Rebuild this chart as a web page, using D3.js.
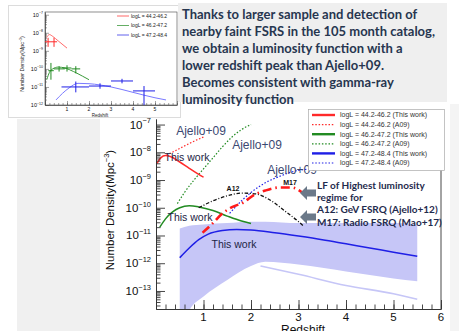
<!DOCTYPE html>
<html>
<head>
<meta charset="utf-8">
<script src="https://cdn.jsdelivr.net/npm/d3@7"></script>
<style>
  body { margin: 0; background: #fff; }
  svg { display: block; font-family: "Liberation Sans", Arial, sans-serif; }
</style>
</head>
<body>
<svg id="slide" width="459" height="331"></svg>
<script>
// ---- data: [redshift, log10(number density)] ----
// main panel curves
const redThisWork = [[0.02,-8.4],[0.1,-8.2],[0.2,-8.12],[0.3,-8.15],[0.5,-8.35],[0.7,-8.58],[0.9,-8.8],[1.0,-8.9]];
const redA09 = [[0.22,-8.1],[0.4,-7.95],[0.6,-7.77],[0.8,-7.6],[1.0,-7.45]];
const greenThisWork = [[0.08,-10.7],[0.2,-10.4],[0.35,-10.15],[0.5,-10.0],[0.7,-9.93],[0.9,-9.97],[1.2,-10.1],[1.5,-10.3],[1.8,-10.48],[2.0,-10.57]];
const greenA09 = [[0.45,-9.85],[0.6,-9.45],[0.8,-9.0],[1.0,-8.6],[1.2,-8.2],[1.4,-7.8],[1.6,-7.45],[1.8,-7.18],[2.0,-7.0]];
const blueThisWork = [[0.5,-11.8],[0.7,-11.45],[0.9,-11.15],[1.1,-10.95],[1.4,-10.82],[1.7,-10.78],[2.0,-10.8],[2.5,-10.9],[3.0,-11.02],[3.5,-11.15],[4.0,-11.3],[4.5,-11.45],[5.0,-11.6],[5.5,-11.75]];
const blueA09 = [[1.55,-10.2],[1.8,-9.75],[2.0,-9.45],[2.3,-9.1],[2.6,-8.87],[3.0,-8.65],[3.5,-8.58],[4.0,-8.56],[5.0,-8.56]];
const ajello12 = [[0.9,-10.0],[1.2,-9.75],[1.5,-9.57],[1.8,-9.47],[2.1,-9.5],[2.4,-9.72],[2.7,-10.1],[3.0,-10.5],[3.1,-10.65]];
const mao17 = [[0.98,-10.9],[1.2,-10.55],[1.4,-10.2],[1.6,-9.98],[1.85,-9.8],[2.05,-9.55],[2.3,-9.38],[2.6,-9.27],[2.85,-9.27],[3.08,-9.45]];
// uncertainty band of the highest luminosity bin: [z, upper, lower]
const blueBand = [[0.5,-10.75,-14.5],[0.7,-10.65,-13.7],[1.0,-10.6,-13.2],[1.5,-10.55,-12.6],[2.0,-10.5,-12.1],[2.3,-10.5,-11.95],[3.0,-10.55,-12.05],[4.0,-10.55,-12.3],[5.0,-10.55,-12.55],[5.5,-10.6,-12.65]];
const blueBandFaint = [[2.2,-12.1],[3.0,-12.4],[4.0,-12.8],[5.0,-13.1],[5.5,-13.3]];

// inset curves and binned points [z, zlo, zhi, logN, logNhi, logNlo]
const insetRed = [[0.08,-8.25],[0.2,-8.1],[0.35,-8.2],[0.6,-8.45],[1.0,-8.85]];
const insetGreen = [[0.08,-10.6],[0.2,-10.2],[0.35,-10.0],[0.6,-9.9],[0.9,-9.95],[1.3,-10.15],[1.7,-10.4],[2.0,-10.6]];
const insetBlue = [[0.5,-11.72],[0.8,-11.35],[1.1,-11.05],[1.5,-10.8],[2.0,-10.82],[3.0,-11.0],[4.0,-11.3],[5.0,-11.6],[5.5,-11.72]];
const insetRedPts = [[0.14,0.0,0.27,-8.5,-8.28,-8.78],[0.41,0.27,0.55,-8.5,-8.28,-8.78]];
const insetGreenPts = [[0.27,0.15,0.4,-10.1,-9.67,-10.6],[0.64,0.4,0.9,-10.0,-9.85,-10.15],[1.0,0.8,1.2,-9.95,-9.8,-10.15],[1.4,1.2,1.6,-10.0,-9.85,-10.25]];
const insetBluePts = [[1.4,0.75,2.0,-11.0,-10.7,-11.3],[2.5,2.0,3.0,-10.95,-10.8,-11.1],[3.5,3.0,4.0,-10.67,-10.55,-10.8],[4.5,4.0,5.0,-11.22,-10.95,-12.0]];

// tick labels
const zTicks = [0,1,2,3,4,5,6];
const mainExps = [-7,-8,-9,-10,-11,-12,-13];
const insetExps = [-7,-8,-9,-10,-11,-12];

const legendLabels = ["logL = 44.2-46.2 (This work)","logL = 44.2-46.2 (A09)","logL = 46.2-47.2 (This work)","logL = 46.2-47.2 (A09)","logL = 47.2-48.4 (This work)","logL = 47.2-48.4 (A09)"];
const insetLegendLabels = ["logL = 44.2-46.2","logL = 46.2-47.2","logL = 47.2-48.4"];
const slideText = ["Thanks to larger sample and detection of","nearby faint FSRS in the 105 month catalog,","we obtain a luminosity function with a","lower redshift peak than Ajello+09.","Becomes consistent with gamma-ray","luminosity function"];
const noteText = ["LF of Highest luminosity","regime for","A12: GeV FSRQ (Ajello+12)","M17: Radio FSRQ (Mao+17)"];

const RED = "#ff2a2a", GREEN = "#228b22", BLUE = "#1f1fe6";

const svg = d3.select("#slide");
const p10 = v => Math.pow(10, v);

function powLabel(g, x, y, exp, size) {
  const t = g.append("text").attr("x", x).attr("y", y)
    .attr("text-anchor", "end").style("font-size", size + "px").attr("fill", "#111");
  t.append("tspan").text("10");
  t.append("tspan").attr("dy", -size * 0.45).style("font-size", (size * 0.65) + "px").text("\u2212" + Math.abs(exp));
}

function minorLog(domain) {
  const out = [];
  for (let e = -15; e <= -6; e++)
    for (let k = 2; k <= 9; k++) {
      const v = k * p10(e);
      if (v >= domain[0] && v <= domain[1]) out.push(v);
    }
  return out;
}

// ---- backgrounds ----
svg.append("rect").attr("x", 17).attr("y", 119).attr("width", 83).attr("height", 212).attr("fill", "#f0f0f0");
svg.append("rect").attr("x", 8.5).attr("y", 5.5).attr("width", 172).attr("height", 112)
  .attr("fill", "#fff").attr("stroke", "#dcdcdc");

// ================= inset (small chart) =================
const ix = d3.scaleLinear().domain([0, 6]).range([45, 177]);
const iy = d3.scaleLog().domain([1e-12, p10(-6.85)]).range([105, 12]);
const inset = svg.append("g");

inset.append("rect").attr("x", 45).attr("y", 12).attr("width", 132).attr("height", 93)
  .attr("fill", "none").attr("stroke", "#444").attr("stroke-width", 0.6);

inset.append("g").attr("transform", "translate(45,0)")
  .call(d3.axisLeft(iy).tickValues(insetExps.map(p10)).tickSize(-4).tickSizeOuter(0).tickFormat(""));
inset.append("g").attr("transform", "translate(45,0)")
  .call(d3.axisLeft(iy).tickValues(minorLog(iy.domain())).tickSize(-2).tickSizeOuter(0).tickFormat(""));
inset.append("g").attr("transform", "translate(0,105)")
  .call(d3.axisBottom(ix).tickValues(zTicks).tickSize(-4).tickSizeOuter(0).tickFormat(""));
inset.append("g").attr("transform", "translate(0,105)")
  .call(d3.axisBottom(ix).tickValues(d3.range(0, 6.01, 0.2)).tickSize(-2).tickSizeOuter(0).tickFormat(""));
inset.selectAll(".domain, .tick line").attr("stroke", "#444").attr("stroke-width", 0.5);

insetExps.forEach(e => powLabel(inset, 43, iy(p10(e)) + 2, e, 5.5));
zTicks.slice(1, 6).forEach(z => inset.append("text").attr("x", ix(z)).attr("y", 111)
  .attr("text-anchor", "middle").style("font-size", "5px").attr("fill", "#111").text(z));
inset.append("text").attr("x", 100).attr("y", 117).attr("text-anchor", "middle")
  .style("font-size", "4.5px").attr("fill", "#222").text("Redshift");
const iyl = inset.append("text").attr("transform", "translate(24,64) rotate(-90)")
  .attr("text-anchor", "middle").style("font-size", "5.3px").attr("fill", "#222");
iyl.append("tspan").text("Number Density(Mpc");
iyl.append("tspan").attr("dy", -2).style("font-size", "3.6px").text("\u22123");
iyl.append("tspan").attr("dy", 2).text(")");

const iline = d3.line().x(d => ix(d[0])).y(d => iy(p10(d[1]))).curve(d3.curveMonotoneX);
[[insetRed, "#ff6a6a"], [insetGreen, "#3a9a3a"], [insetBlue, "#7a7aff"]].forEach(([d, c]) =>
  inset.append("path").attr("d", iline(d)).attr("fill", "none").attr("stroke", c).attr("stroke-width", 1));

[[insetRedPts, RED], [insetGreenPts, GREEN], [insetBluePts, BLUE]].forEach(([pts, c]) => {
  const g = inset.append("g").attr("stroke", c).attr("stroke-width", 1);
  g.selectAll(".h").data(pts).join("line")
    .attr("x1", d => ix(d[1])).attr("x2", d => ix(d[2]))
    .attr("y1", d => iy(p10(d[3]))).attr("y2", d => iy(p10(d[3])));
  g.selectAll(".v").data(pts).join("line")
    .attr("x1", d => ix(d[0])).attr("x2", d => ix(d[0]))
    .attr("y1", d => iy(p10(d[4]))).attr("y2", d => iy(p10(d[5])));
});

const ileg = inset.append("g");
[RED, GREEN, BLUE].forEach((c, i) => {
  const yy = 16 + i * 9.5;
  ileg.append("line").attr("x1", 117).attr("x2", 129).attr("y1", yy).attr("y2", yy)
    .attr("stroke", c).attr("stroke-opacity", 0.7).attr("stroke-width", 1);
  ileg.append("text").attr("x", 131).attr("y", yy + 1.7).style("font-size", "5px")
    .attr("fill", "#222").text(insetLegendLabels[i]);
});

// ---- text box ----
svg.append("rect").attr("x", 178).attr("y", 3).attr("width", 269).attr("height", 99).attr("fill", "#efefef");
svg.append("g").selectAll("text").data(slideText).join("text")
  .attr("x", 182).attr("y", (d, i) => 19 + i * 17)
  .style("font-family", "Lato, 'Open Sans', sans-serif").style("font-weight", "bold")
  .style("font-size", "13px").attr("fill", "#27364f").text(d => d);

// ================= main chart =================
const x = d3.scaleLinear().domain([0, 6]).range([156, 441]);
const y = d3.scaleLog().domain([p10(-13.65), p10(-6.8)]).range([309, 119]);
const main = svg.append("g");

main.append("clipPath").attr("id", "plotclip").append("rect")
  .attr("x", 156).attr("y", 119).attr("width", 285).attr("height", 190);
const plot = main.append("g").attr("clip-path", "url(#plotclip)");

const line = d3.line().x(d => x(d[0])).y(d => y(p10(d[1]))).curve(d3.curveMonotoneX);
const band = d3.area().x(d => x(d[0])).y0(d => y(p10(d[2]))).y1(d => y(p10(d[1]))).curve(d3.curveMonotoneX);

plot.append("path").attr("d", band(blueBand)).attr("fill", "#c6c6f7");
plot.append("path").attr("d", line(blueBandFaint)).attr("fill", "none").attr("stroke", "#c6c6f7").attr("stroke-width", 1.6);

const series = [
  [redA09, RED, "1.5,1.8", 1.2],
  [greenA09, GREEN, "1.5,1.8", 1.2],
  [blueA09, BLUE, "1.5,1.8", 1.2],
  [redThisWork, RED, null, 1.5],
  [greenThisWork, GREEN, null, 1.5],
  [blueThisWork, BLUE, null, 1.5],
  [ajello12, "#111", "3.5,1.8,1,1.8", 1.3],
  [mao17, "#ff1a1a", "9,4,1.5,4", 2.6]
];
series.forEach(([d, c, dash, w]) => {
  plot.append("path").attr("d", line(d)).attr("fill", "none")
    .attr("stroke", c).attr("stroke-width", w).attr("stroke-dasharray", dash);
});

// axes
main.append("g").attr("transform", "translate(156,0)")
  .call(d3.axisLeft(y).tickValues(mainExps.map(p10)).tickSize(-9).tickSizeOuter(0).tickFormat(""));
main.append("g").attr("transform", "translate(156,0)")
  .call(d3.axisLeft(y).tickValues(minorLog(y.domain())).tickSize(-4.5).tickSizeOuter(0).tickFormat(""));
main.append("g").attr("transform", "translate(0,309)")
  .call(d3.axisBottom(x).tickValues(zTicks).tickSize(-9).tickSizeOuter(0).tickFormat(""));
main.append("g").attr("transform", "translate(0,309)")
  .call(d3.axisBottom(x).tickValues(d3.range(0, 6.01, 0.2)).tickSize(-4.5).tickSizeOuter(0).tickFormat(""));
main.selectAll(".domain, .tick line").attr("stroke", "#333").attr("stroke-width", 0.9);
main.append("line").attr("x1", 441).attr("x2", 441).attr("y1", 119).attr("y2", 309)
  .attr("stroke", "#333").attr("stroke-width", 0.9);

mainExps.forEach(e => powLabel(main, 151, y(p10(e)) + 4, e, 11.5));
zTicks.slice(1).forEach(z => main.append("text").attr("x", x(z)).attr("y", 321)
  .attr("text-anchor", "middle").style("font-size", "11.5px").attr("fill", "#111").text(z));
main.append("text").attr("x", 303).attr("y", 334).attr("text-anchor", "middle")
  .style("font-size", "12px").attr("fill", "#111").text("Redshift");
const yl = main.append("text").attr("transform", "translate(114,210) rotate(-90)")
  .attr("text-anchor", "middle").style("font-size", "11.5px").attr("fill", "#111");
yl.append("tspan").text("Number Density(Mpc");
yl.append("tspan").attr("dy", -5).style("font-size", "7.5px").text("\u22123");
yl.append("tspan").attr("dy", 5).text(")");

// annotations
const ann = main.append("g");
[["Ajello+09", 201, 135], ["Ajello+09", 257, 149], ["Ajello+09", 292, 174]].forEach(([t, ax, ay]) =>
  ann.append("text").attr("x", ax).attr("y", ay).attr("text-anchor", "middle")
    .style("font-size", "12px").attr("fill", "#3b4872").text(t));
[["This work", 187, 161], ["This work", 190, 221], ["This work", 234, 248]].forEach(([t, ax, ay]) =>
  ann.append("text").attr("x", ax).attr("y", ay).attr("text-anchor", "middle")
    .style("font-size", "10.5px").attr("fill", "#1c2444").text(t));
ann.append("text").attr("x", 233).attr("y", 191).attr("text-anchor", "middle")
  .style("font-size", "7px").style("font-weight", "bold").attr("fill", "#111").text("A12");
ann.append("text").attr("x", 290).attr("y", 185).attr("text-anchor", "middle")
  .style("font-size", "7px").style("font-weight", "bold").attr("fill", "#111").text("M17");

// legend
const leg = main.append("g");
leg.append("rect").attr("x", 308.5).attr("y", 109.5).attr("width", 136).attr("height", 61)
  .attr("fill", "#fff").attr("stroke", "#aaa").attr("stroke-width", 0.7);
const legStyle = [[RED, null, 2.4], [RED, "1.5,1.8", 1.2], [GREEN, null, 2.4], [GREEN, "1.5,1.8", 1.2], [BLUE, null, 2.4], [BLUE, "1.5,1.8", 1.2]];
legendLabels.forEach((lab, i) => {
  const yy = 115 + i * 9.6;
  leg.append("line").attr("x1", 312).attr("x2", 335).attr("y1", yy).attr("y2", yy)
    .attr("stroke", legStyle[i][0]).attr("stroke-width", legStyle[i][2]).attr("stroke-dasharray", legStyle[i][1]);
  leg.append("text").attr("x", 340).attr("y", yy + 2.4).style("font-size", "7px")
    .attr("fill", "#333").text(lab);
});

// arrows + note
[193, 217].forEach(ay => {
  main.append("path")
    .attr("d", `M300,${ay} L307,${ay - 7} L307,${ay - 3.5} L316,${ay - 3.5} L316,${ay + 3.5} L307,${ay + 3.5} L307,${ay + 7} Z`)
    .attr("fill", "#6b7989");
});
main.append("g").selectAll("text").data(noteText).join("text")
  .attr("x", 317).attr("y", (d, i) => 188.5 + i * 12.4)
  .style("font-family", "Lato, 'Open Sans', sans-serif").style("font-weight", "bold")
  .style("font-size", "10px").attr("fill", "#1f2b4d").text(d => d);

// right edge of the pasted figure
svg.append("rect").attr("x", 450).attr("y", 104).attr("width", 9).attr("height", 227).attr("fill", "#f4f4f4");
</script>
</body>
</html>
